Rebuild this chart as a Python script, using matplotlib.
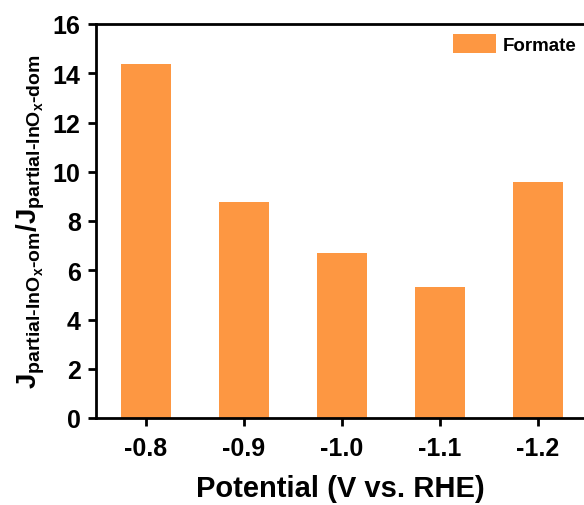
import matplotlib
matplotlib.use('Agg')
import matplotlib.pyplot as plt

# data
potentials = ['-0.8', '-0.9', '-1.0', '-1.1', '-1.2']
ratios = [14.36, 8.77, 6.70, 5.34, 9.60]
yticks = [0, 2, 4, 6, 8, 10, 12, 14, 16]

bar_color = '#FD9742'

plt.rcParams['font.family'] = ['Liberation Sans', 'DejaVu Sans']
plt.rcParams['font.weight'] = 'bold'
plt.rcParams['mathtext.fontset'] = 'custom'
plt.rcParams['mathtext.rm'] = 'Liberation Sans:bold'
plt.rcParams['mathtext.it'] = 'Liberation Sans:bold'
plt.rcParams['mathtext.bf'] = 'Liberation Sans:bold'
plt.rcParams['mathtext.sf'] = 'Liberation Sans:bold'
plt.rcParams['mathtext.default'] = 'rm'


def main():
    fig = plt.figure(figsize=(5.84, 5.06), dpi=100)
    ax = fig.add_axes([96 / 584, 1 - 419 / 506, 1 - 96 / 584, (419 - 25) / 506])

    x = range(len(potentials))
    ax.bar(x, ratios, width=0.51, color=bar_color, label='Formate')

    ax.set_xlim(-0.51, 4.47)
    ax.set_ylim(0, 16)
    ax.set_xticks(list(x))
    ax.set_xticklabels(potentials)
    ax.set_yticks(yticks)

    for side in ['left', 'bottom', 'top']:
        ax.spines[side].set_linewidth(2)
    ax.spines['right'].set_visible(False)
    ax.tick_params(axis='both', direction='out', length=6, width=2,
                   labelsize=18)
    ax.tick_params(axis='x', pad=7)
    ax.tick_params(axis='y', pad=5)

    ax.set_xlabel('Potential (V vs. RHE)', fontsize=21, fontweight='bold',
                  labelpad=10)
    ax.set_ylabel(r'$J_{partial\text{-}InO_x\text{-}om}/J_{partial\text{-}InO_x\text{-}dom}$',
                  fontsize=20, labelpad=4)

    ax.legend(loc='upper left', bbox_to_anchor=(0.732, 0.975), frameon=False,
              fontsize=13.5, handlelength=2.3, handleheight=1.2,
              borderpad=0, borderaxespad=0, handletextpad=0.35)

    fig.savefig('out.png', dpi=100)


if __name__ == "__main__":
    main()
